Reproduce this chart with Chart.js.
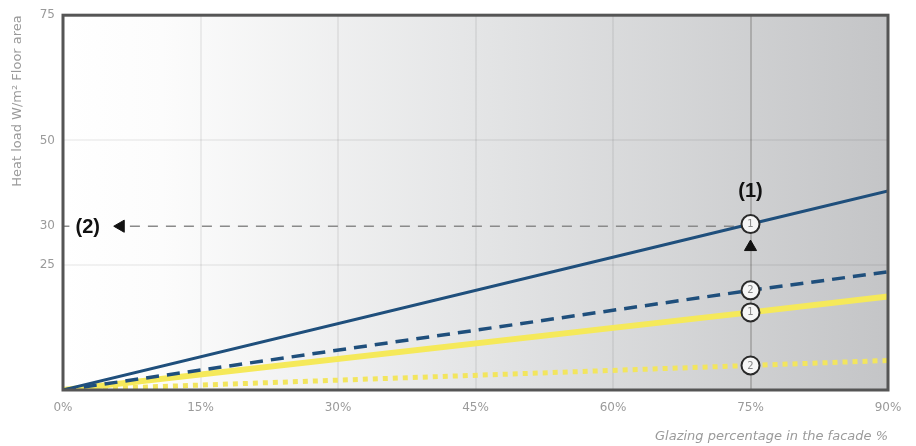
<!DOCTYPE html>
<html>
<head>
<meta charset="utf-8">
<script src="https://cdn.jsdelivr.net/npm/chart.js@4/dist/chart.umd.min.js"></script>
<style>
  html, body { margin: 0; padding: 0; background: #fff; }
  canvas { display: block; }
</style>
</head>
<body>
<canvas id="chart" width="916" height="446"></canvas>
<script>
// Datos
const glazingPct = [0, 75, 90];
const solidBlue = [0, 30.5, 38.2];
const dashedBlue = [0, 19.9, 23.6];
const solidYellow = [0, 15.5, 18.7];
const dottedYellow = [0, 4.9, 5.9];
const markerLabels = ['1', '2', '1', '2'];

const xTicks = [0, 15, 30, 45, 60, 75, 90];
const yTicks = [25, 30, 50, 75];
const referenceLoad = 30;      // línea de referencia (2)
const referencePct = 75;       // línea de referencia (1)

// El eje Y del original no es lineal: tramos entre las marcas
const Y_BREAKS = [0, 25, 30, 50, 75];
const Y_FRACS = [0, 0.334, 0.437, 0.666, 1];

function interp(v, from, to) {
    for (let i = 1; i < from.length; i++) {
        if (v <= from[i] || i === from.length - 1) {
            const t = (v - from[i - 1]) / (from[i] - from[i - 1]);
            return to[i - 1] + t * (to[i] - to[i - 1]);
        }
    }
    return to[to.length - 1];
}

class PiecewiseScale extends Chart.LinearScale {
    getPixelForValue(value) {
        if (value === null || value === undefined || isNaN(value)) return NaN;
        return this.getPixelForDecimal(interp(value, Y_BREAKS, Y_FRACS));
    }
    getValueForPixel(pixel) {
        return interp(this.getDecimalForPixel(pixel), Y_FRACS, Y_BREAKS);
    }
}
PiecewiseScale.id = 'piecewise';
PiecewiseScale.defaults = Chart.LinearScale.defaults;
Chart.register(PiecewiseScale);

const toPoints = arr => arr.map((v, i) => ({ x: glazingPct[i], y: v }));
const markerAt75 = glazingPct.map(p => p === referencePct ? 9 : 0);

// Fondo degradado del área
const backgroundPlugin = {
    id: 'areaBackground',
    beforeDraw(chart) {
        const { ctx, chartArea: a } = chart;
        const g = ctx.createLinearGradient(a.left, 0, a.right, 0);
        g.addColorStop(0, '#ffffff');
        g.addColorStop(0.12, '#fcfcfc');
        g.addColorStop(0.5, '#e4e5e6');
        g.addColorStop(1, '#c4c5c7');
        ctx.save();
        ctx.fillStyle = g;
        ctx.fillRect(a.left, a.top, a.right - a.left, a.bottom - a.top);
        ctx.restore();
    }
};

// Marco, números en los círculos y anotaciones
const annotationPlugin = {
    id: 'annotations',
    afterDraw(chart) {
        const { ctx, chartArea: a, scales } = chart;
        ctx.save();
        ctx.strokeStyle = '#555';
        ctx.lineWidth = 3;
        ctx.strokeRect(a.left, a.top, a.right - a.left, a.bottom - a.top);

        ctx.textAlign = 'center';
        ctx.textBaseline = 'middle';
        ctx.font = '10px "DejaVu Sans"';
        ctx.fillStyle = '#888';
        for (let d = 0; d < 4; d++) {
            const pt = chart.getDatasetMeta(d).data[1];
            ctx.fillText(markerLabels[d], pt.x, pt.y + 0.5);
        }

        const top = chart.getDatasetMeta(0).data[1];
        ctx.fillStyle = '#111';
        ctx.font = 'bold 20px "Liberation Sans"';
        ctx.fillText('(1)', top.x, top.y - 33);
        ctx.fillText('(2)', scales.x.getPixelForValue(2.7), scales.y.getPixelForValue(referenceLoad) + 1);
        ctx.restore();
    }
};

const refLine = [
    { x: 0, y: referenceLoad }, { x: 0.7, y: referenceLoad }, { x: 3, y: null },
    { x: 7.3, y: referenceLoad }, { x: referencePct, y: referenceLoad }
];
const arrowPoints = [
    { x: 6.3, y: referenceLoad },
    { x: referencePct, y: 27.3 }
];

new Chart(document.getElementById('chart'), {
    type: 'line',
    data: {
        datasets: [
            {
                data: toPoints(solidBlue),
                borderColor: '#1f4f7c', borderWidth: 3,
                pointRadius: markerAt75, pointBackgroundColor: '#f6f6f6',
                pointBorderColor: '#2a2a2a', pointBorderWidth: 2
            },
            {
                data: toPoints(dashedBlue),
                borderColor: '#1f4f7c', borderWidth: 3.5, borderDash: [13, 8],
                pointRadius: markerAt75, pointBackgroundColor: '#f6f6f6',
                pointBorderColor: '#2a2a2a', pointBorderWidth: 2
            },
            {
                data: toPoints(solidYellow),
                borderColor: '#f5e95a', borderWidth: 6,
                pointRadius: markerAt75, pointBackgroundColor: '#f6f6f6',
                pointBorderColor: '#2a2a2a', pointBorderWidth: 2
            },
            {
                data: toPoints(dottedYellow),
                borderColor: '#f2e55e', borderWidth: 5, borderDash: [5, 5],
                pointRadius: markerAt75, pointBackgroundColor: '#f6f6f6',
                pointBorderColor: '#2a2a2a', pointBorderWidth: 2
            },
            {
                data: refLine,
                borderColor: '#8a8a8a', borderWidth: 1.5, borderDash: [10, 8],
                pointRadius: 0, spanGaps: false, order: 5
            },
            {
                data: arrowPoints,
                showLine: false,
                pointStyle: 'triangle', pointRadius: 7,
                rotation: [-90, 0],
                pointBackgroundColor: '#111', pointBorderColor: '#111', pointBorderWidth: 1
            }
        ]
    },
    options: {
        responsive: false,
        animation: false,
        layout: { padding: { top: 10, right: 28, left: 0, bottom: 0 } },
        plugins: {
            legend: { display: false },
            tooltip: { enabled: false }
        },
        scales: {
            x: {
                type: 'linear',
                min: 0, max: 90,
                afterBuildTicks: s => { s.ticks = xTicks.map(v => ({ value: v })); },
                afterFit: s => { s.height = 56; },
                grid: {
                    drawTicks: false,
                    color: c => c.tick && c.tick.value === referencePct ? '#ababab' : 'rgba(0,0,0,0.06)',
                    lineWidth: 2
                },
                border: { display: false },
                ticks: {
                    padding: 11,
                    color: '#9a9a9a',
                    font: { family: 'DejaVu Sans', size: 12 },
                    callback: v => v + '%'
                },
                title: {
                    display: true,
                    align: 'end',
                    text: 'Glazing percentage in the facade %',
                    color: '#9a9a9a',
                    font: { family: 'DejaVu Sans', size: 13, style: 'italic' },
                    padding: { top: 0, bottom: 2 }
                }
            },
            y: {
                type: 'piecewise',
                min: 0, max: 75,
                afterBuildTicks: s => { s.ticks = yTicks.map(v => ({ value: v })); },
                afterFit: s => { s.width = 63; },
                grid: {
                    drawTicks: false,
                    color: c => c.tick && c.tick.value === referenceLoad ? 'rgba(0,0,0,0)' : 'rgba(0,0,0,0.05)',
                    lineWidth: 2
                },
                border: { display: false },
                ticks: {
                    padding: 8,
                    color: '#9a9a9a',
                    font: { family: 'DejaVu Sans', size: 12 }
                },
                title: {
                    display: true,
                    align: 'end',
                    text: 'Heat load W/m² Floor area',
                    color: '#9a9a9a',
                    font: { family: 'DejaVu Sans', size: 13 },
                    padding: { top: 10, bottom: 0 }
                }
            }
        }
    },
    plugins: [backgroundPlugin, annotationPlugin]
});
</script>
</body>
</html>
